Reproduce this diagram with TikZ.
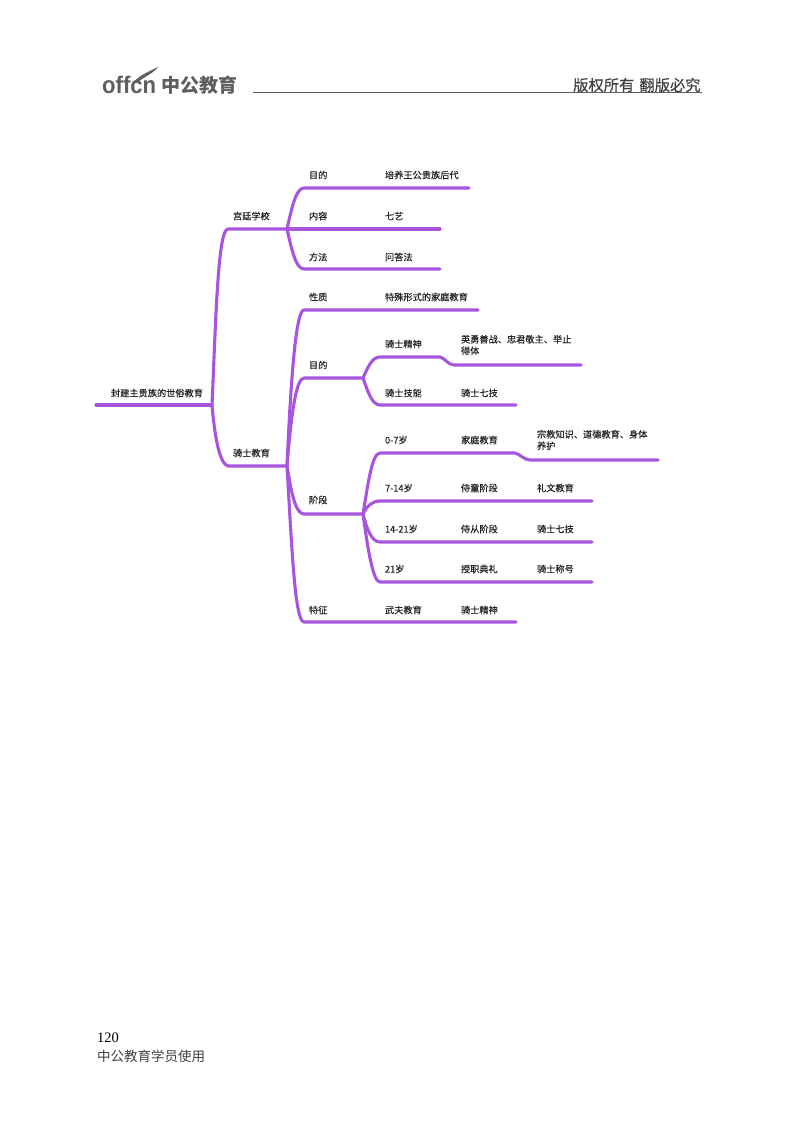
\documentclass[tikz,border=0pt]{standalone}
\usepackage{fontspec}
\setmainfont{Noto Sans CJK SC}
\newfontfamily\labfont[FakeBold=0.35]{Noto Sans CJK SC}
\newfontfamily\latinsans{Liberation Sans}
\newfontfamily\latinserif{Liberation Serif}
\definecolor{mapline}{HTML}{A755DF}
\definecolor{maptext}{HTML}{222222}
\definecolor{headgray}{HTML}{5E5E5E}
\tikzset{
  link/.style={draw=mapline,line width=3.1pt,line cap=round,line join=round},
  lab/.style={anchor=west,inner sep=0pt,outer sep=0pt,text=maptext,font=\labfont\fontsize{9.2}{11.5}\selectfont,align=left},
  head/.style={anchor=west,inner sep=0pt,text=headgray},
}
\begin{document}
\begin{tikzpicture}[x=1pt,y=-1pt]
\useasboundingbox (0,0) rectangle (800,1124);
% header
\node[head,xscale=0.92,font=\latinsans\bfseries\fontsize{24}{24}\selectfont] (logoa) at (102,85) {offcn};
\node[head,font=\fontsize{19}{20}\selectfont\bfseries] (logob) at (161,85) {中公教育};
\fill[headgray] (133,83) .. controls (138,76) and (148,72) .. (158,67) .. controls (153,74) and (143,77) .. (137,83) -- cycle;
\node[head,font=\labfont\fontsize{15.3}{16}\selectfont,text=black!75] (rights) at (573,85) {版权所有\hspace{5pt}翻版必究};
\coordinate (ruleL) at (253,92.5);
\coordinate (ruleR) at (702,92.5);
\draw[headgray,line width=1.9pt] (ruleL) -- (ruleR);
% junctions
\coordinate (rootS) at (96,405);
\coordinate (rootJ) at (212,405);
\coordinate (palaceE) at (228,229);
\coordinate (palaceJ) at (287,229);
\coordinate (knightE) at (228,466);
\coordinate (knightJ) at (287,466);
\coordinate (aimE) at (304,378);
\coordinate (aimJ) at (363,378);
\coordinate (stageE) at (304,514);
\coordinate (stageJ) at (363,514);
% end points
\coordinate (p1a) at (304,188); \coordinate (p1b) at (469,188);
\coordinate (p2b) at (440,229);
\coordinate (p3a) at (304,269); \coordinate (p3b) at (440,269);
\coordinate (k1a) at (304,310); \coordinate (k1b) at (478,310);
\coordinate (k4a) at (304,622); \coordinate (k4b) at (516,622);
\coordinate (a1a) at (380,357); \coordinate (a1b) at (440,357);
\coordinate (a1c) at (454,365); \coordinate (a1d) at (581,365);
\coordinate (a2a) at (380,405); \coordinate (a2b) at (516,405);
\coordinate (s1a) at (380,453); \coordinate (s1b) at (515,453);
\coordinate (s1c) at (530,460); \coordinate (s1d) at (658,460);
\coordinate (s2a) at (380,501); \coordinate (s2b) at (592,501);
\coordinate (s3a) at (380,542); \coordinate (s3b) at (592,542);
\coordinate (s4a) at (380,582); \coordinate (s4b) at (592,582);
% connectors
\draw[link] (rootS) -- (rootJ);
\draw[link] (rootJ) .. controls +(4,-90) and +(-10,0) .. (palaceE) -- (palaceJ);
\draw[link] (rootJ) .. controls +(3,35) and +(-8,-2) .. (knightE) -- (knightJ);
\draw[link] (palaceJ) .. controls +(5,-22) and +(-8,0) .. (p1a) -- (p1b);
\draw[link] (palaceJ) -- (p2b);
\draw[link] (palaceJ) .. controls +(5,22) and +(-8,0) .. (p3a) -- (p3b);
\draw[link] (knightJ) .. controls +(4,-90) and +(-8,0) .. (k1a) -- (k1b);
\draw[link] (knightJ) .. controls +(4,-50) and +(-8,0) .. (aimE) -- (aimJ);
\draw[link] (knightJ) .. controls +(4,24) and +(-9,0) .. (stageE) -- (stageJ);
\draw[link] (knightJ) .. controls +(5,85) and +(-9,0) .. (k4a) -- (k4b);
\draw[link] (aimJ) .. controls +(5,-11) and +(-8,0) .. (a1a) -- (a1b) .. controls +(5,1) and +(-6,0) .. (a1c) -- (a1d);
\draw[link] (aimJ) .. controls +(5,14) and +(-8,0) .. (a2a) -- (a2b);
\draw[link] (stageJ) .. controls +(5,-30) and +(-8,0) .. (s1a) -- (s1b) .. controls +(5,1) and +(-6,0) .. (s1c) -- (s1d);
\draw[link] (stageJ) .. controls +(4,-8) and +(-8,0) .. (s2a) -- (s2b);
\draw[link] (stageJ) .. controls +(4,16) and +(-8,0) .. (s3a) -- (s3b);
\draw[link] (stageJ) .. controls +(5,36) and +(-7,0) .. (s4a) -- (s4b);
% labels
\node[lab] (root) at (111,393) {封建主贵族的世俗教育};
\node[lab] (palace) at (233,216) {宫廷学校};
\node[lab] (knight) at (233,453) {骑士教育};
\node[lab] (t1) at (309,175) {目的};
\node[lab] (t2) at (309,216) {内容};
\node[lab] (t3) at (309,257) {方法};
\node[lab] (t4) at (309,297) {性质};
\node[lab] (t5) at (309,365) {目的};
\node[lab] (t6) at (309,500) {阶段};
\node[lab] (t7) at (309,610) {特征};
\node[lab] (u1) at (385,175) {培养王公贵族后代};
\node[lab] (u2) at (385,216) {七艺};
\node[lab] (u3) at (385,257) {问答法};
\node[lab] (u4) at (385,297) {特殊形式的家庭教育};
\node[lab] (u5) at (385,344) {骑士精神};
\node[lab] (u6) at (385,393) {骑士技能};
\node[lab] (u7) at (385,440) {0-7岁};
\node[lab] (u8) at (385,488) {7-14岁};
\node[lab] (u9) at (385,529) {14-21岁};
\node[lab] (u10) at (385,569) {21岁};
\node[lab] (u11) at (385,610) {武夫教育};
\node[lab] (v1) at (461,393) {骑士七技};
\node[lab] (v2) at (461,440) {家庭教育};
\node[lab] (v3) at (461,488) {侍童阶段};
\node[lab] (v4) at (461,529) {侍从阶段};
\node[lab] (v5) at (461,569) {授职典礼};
\node[lab] (v6) at (461,610) {骑士精神};
\node[lab] (w1) at (461,345) {英勇善战、忠君敬主、举止\\得体};
\node[lab] (w2) at (537,440) {宗教知识、道德教育、身体\\养护};
\node[lab] (w3) at (537,488) {礼文教育};
\node[lab] (w4) at (537,529) {骑士七技};
\node[lab] (w5) at (537,569) {骑士称号};
% footer
\node[anchor=west,inner sep=0pt,text=black,font=\latinserif\fontsize{14.5}{15}\selectfont] (page) at (97,1038) {120};
\node[anchor=west,inner sep=0pt,text=black!75,font=\fontsize{13.5}{15}\selectfont] (foot) at (97,1056) {中公教育学员使用};
\end{tikzpicture}
\end{document}
